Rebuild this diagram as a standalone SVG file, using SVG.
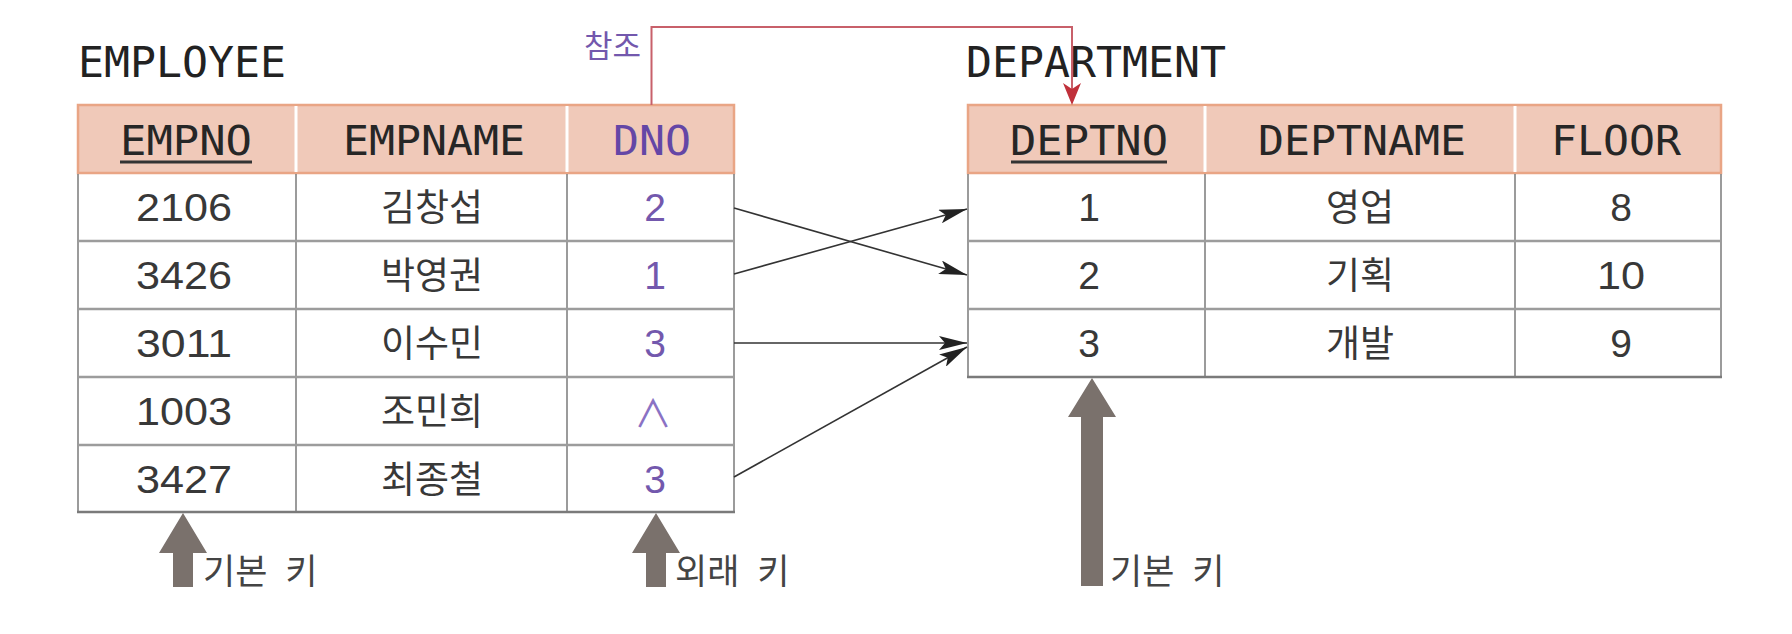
<svg xmlns="http://www.w3.org/2000/svg" width="1792" height="634" viewBox="0 0 1792 634">
<style>
.title{font-family:"DejaVu Sans Mono",monospace;font-size:42px;fill:#222}
.hdr{font-family:"DejaVu Sans Mono",monospace;font-size:41px;fill:#262626;text-anchor:middle}
.num{font-family:"Liberation Sans",Arial,sans-serif;font-size:39px;fill:#383838;text-anchor:middle}
.kor{font-family:"Noto Sans CJK KR",sans-serif;font-size:37px;fill:#383838;text-anchor:middle}
.fk{fill:#7358ad}
.hfill{fill:#f0c9b9;stroke:#e9a585;stroke-width:2.5}
.hdiv{stroke:#fff;stroke-width:3}
.vline{stroke:#7a7a7a;stroke-width:1.5}
.rline{stroke:#9c9c9c;stroke-width:2.5}
.bline{stroke:#7a7a7a;stroke-width:2.5}
.uline{stroke:#333;stroke-width:3}
.conn{stroke:#333;stroke-width:1.6;fill:none}
.ref{stroke:#c8606a;stroke-width:2;fill:none}
.big{fill:#7a716c}
.lbl{font-family:"Noto Sans CJK KR",sans-serif;font-size:35px;fill:#444;word-spacing:10px}
</style>
<defs>
<marker id="ah" viewBox="0 0 28 14" refX="28" refY="7" markerWidth="28" markerHeight="14" markerUnits="userSpaceOnUse" orient="auto">
<path d="M0,0 L28,7 L0,14 L6,7 Z" fill="#222"/>
</marker>
</defs>

<g id="employee">
<text class="title" x="78" y="77" textLength="208" lengthAdjust="spacingAndGlyphs">EMPLOYEE</text>
<rect class="hfill" x="78" y="105" width="656" height="68"/>
<line class="hdiv" x1="296" y1="106" x2="296" y2="172"/>
<line class="hdiv" x1="567" y1="106" x2="567" y2="172"/>
<text class="hdr" x="186" y="155" textLength="132" lengthAdjust="spacingAndGlyphs">EMPNO</text>
<line class="uline" x1="120" y1="162" x2="252" y2="162"/>
<text class="hdr" x="434" y="155" textLength="182" lengthAdjust="spacingAndGlyphs">EMPNAME</text>
<text class="hdr" x="652" y="155" textLength="78" lengthAdjust="spacingAndGlyphs" style="fill:#6446a6">DNO</text>
<line class="vline" x1="78" y1="174" x2="78" y2="512"/>
<line class="vline" x1="296" y1="174" x2="296" y2="512"/>
<line class="vline" x1="567" y1="174" x2="567" y2="512"/>
<line class="vline" x1="734" y1="174" x2="734" y2="512"/>
<line class="rline" x1="78" y1="241" x2="734" y2="241"/>
<line class="rline" x1="78" y1="309" x2="734" y2="309"/>
<line class="rline" x1="78" y1="377" x2="734" y2="377"/>
<line class="rline" x1="78" y1="445" x2="734" y2="445"/>
<line class="bline" x1="77" y1="512" x2="735" y2="512"/>
<text class="num" x="184" y="221" textLength="96" lengthAdjust="spacingAndGlyphs">2106</text>
<text class="kor" x="432" y="221">김창섭</text>
<text class="num fk" x="655" y="221">2</text>
<text class="num" x="184" y="289" textLength="96" lengthAdjust="spacingAndGlyphs">3426</text>
<text class="kor" x="432" y="289">박영권</text>
<text class="num fk" x="655" y="289">1</text>
<text class="num" x="184" y="357" textLength="96" lengthAdjust="spacingAndGlyphs">3011</text>
<text class="kor" x="432" y="357">이수민</text>
<text class="num fk" x="655" y="357">3</text>
<text class="num" x="184" y="425" textLength="96" lengthAdjust="spacingAndGlyphs">1003</text>
<text class="kor" x="432" y="425">조민희</text>
<text x="653" y="427" style="font-family:'Noto Sans CJK KR',sans-serif;font-size:38px;text-anchor:middle;fill:#8a72c4">∧</text>
<text class="num" x="184" y="493" textLength="96" lengthAdjust="spacingAndGlyphs">3427</text>
<text class="kor" x="432" y="493">최종철</text>
<text class="num fk" x="655" y="493">3</text>
</g>

<g id="department">
<text class="title" x="966" y="77" textLength="260" lengthAdjust="spacingAndGlyphs">DEPARTMENT</text>
<rect class="hfill" x="968" y="105" width="753" height="68"/>
<line class="hdiv" x1="1205" y1="106" x2="1205" y2="172"/>
<line class="hdiv" x1="1515" y1="106" x2="1515" y2="172"/>
<text class="hdr" x="1089" y="155" textLength="158" lengthAdjust="spacingAndGlyphs">DEPTNO</text>
<line class="uline" x1="1011" y1="162" x2="1167" y2="162"/>
<text class="hdr" x="1362" y="155" textLength="208" lengthAdjust="spacingAndGlyphs">DEPTNAME</text>
<text class="hdr" x="1616" y="155" textLength="130" lengthAdjust="spacingAndGlyphs">FLOOR</text>
<line class="vline" x1="968" y1="174" x2="968" y2="377"/>
<line class="vline" x1="1205" y1="174" x2="1205" y2="377"/>
<line class="vline" x1="1515" y1="174" x2="1515" y2="377"/>
<line class="vline" x1="1721" y1="174" x2="1721" y2="377"/>
<line class="rline" x1="968" y1="241" x2="1721" y2="241"/>
<line class="rline" x1="968" y1="309" x2="1721" y2="309"/>
<line class="bline" x1="967" y1="377" x2="1722" y2="377"/>
<text class="num" x="1089" y="221">1</text>
<text class="kor" x="1360" y="221">영업</text>
<text class="num" x="1621" y="221">8</text>
<text class="num" x="1089" y="289">2</text>
<text class="kor" x="1360" y="289">기획</text>
<text class="num" x="1621" y="289" textLength="48" lengthAdjust="spacingAndGlyphs">10</text>
<text class="num" x="1089" y="357">3</text>
<text class="kor" x="1360" y="357">개발</text>
<text class="num" x="1621" y="357">9</text>
</g>

<g id="connectors">
<line class="conn" x1="734" y1="208" x2="967" y2="275" marker-end="url(#ah)"/>
<line class="conn" x1="734" y1="274" x2="967" y2="209" marker-end="url(#ah)"/>
<line class="conn" x1="734" y1="343" x2="967" y2="343" marker-end="url(#ah)"/>
<line class="conn" x1="734" y1="477" x2="967" y2="347" marker-end="url(#ah)"/>
<polyline class="ref" points="651.5,105 651.5,27 1072,27 1072,90"/>
<polygon points="1063,83 1072,105 1081,83 1072,89" fill="#c0303a"/>
</g>

<g id="ref-label">
<text x="641" y="57" style="font-family:'Noto Sans CJK KR',sans-serif;font-size:31px;fill:#7358ad;text-anchor:end">참조</text>
</g>

<g id="pk-employee">
<polygon class="big" points="183,513 207,553 193,553 193,587 173,587 173,553 159,553"/>
<text class="lbl" x="203" y="584">기본 키</text>
</g>
<g id="fk-employee">
<polygon class="big" points="656,513 680,553 666,553 666,587 646,587 646,553 632,553"/>
<text class="lbl" x="675" y="584">외래 키</text>
</g>
<g id="pk-department">
<polygon class="big" points="1092,378 1116,417 1103,417 1103,586 1081,586 1081,417 1068,417"/>
<text class="lbl" x="1110" y="584">기본 키</text>
</g>
</svg>
